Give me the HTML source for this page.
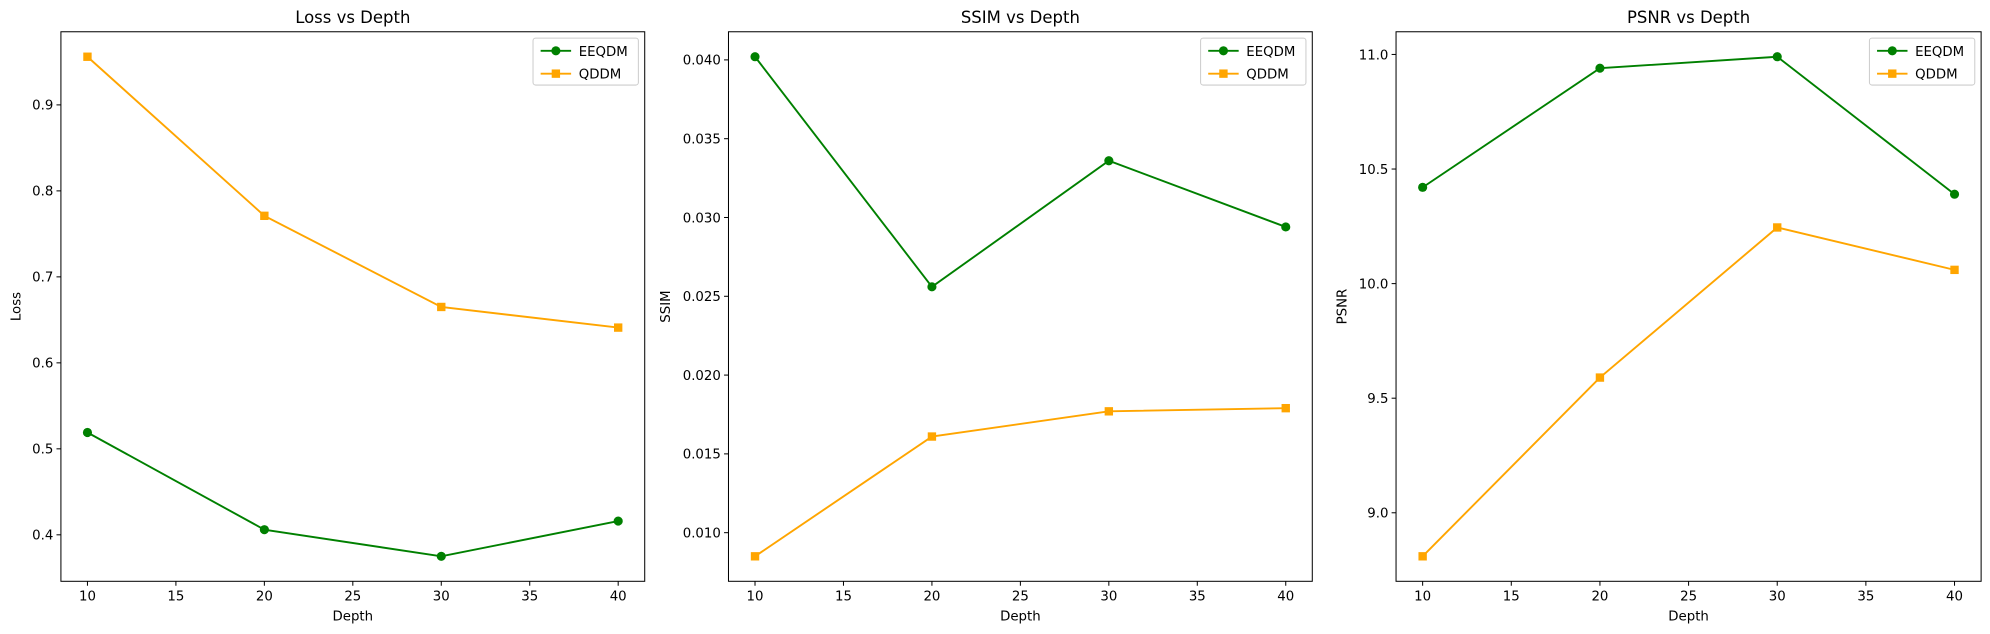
<!DOCTYPE html>
<html><head><meta charset="utf-8"><style>
html,body{margin:0;padding:0;background:#fff;}
svg{display:block;font-family:"DejaVu Sans","Liberation Sans",sans-serif;}
</style></head><body>
<svg id="fig" width="1990" height="634" viewBox="0 0 1568 499.5" xmlns="http://www.w3.org/2000/svg"></svg>
<script>
const depths = [10, 20, 30, 40];
const xTicks = [10, 15, 20, 25, 30, 35, 40];
const lossEEQDM = [0.519, 0.406, 0.375, 0.416];
const lossQDDM = [0.956, 0.771, 0.665, 0.641];
const lossTicks = [0.4, 0.5, 0.6, 0.7, 0.8, 0.9];
const ssimEEQDM = [0.0402, 0.0256, 0.0336, 0.0294];
const ssimQDDM = [0.0085, 0.0161, 0.0177, 0.0179];
const ssimTicks = [0.010, 0.015, 0.020, 0.025, 0.030, 0.035, 0.040];
const psnrEEQDM = [10.42, 10.94, 10.99, 10.39];
const psnrQDDM = [8.81, 9.59, 10.245, 10.06];
const psnrTicks = [9.0, 9.5, 10.0, 10.5, 11.0];

const NS = "http://www.w3.org/2000/svg";
const svg = document.getElementById('fig');
function mk(tag, attrs, parent){
  const e = document.createElementNS(NS, tag);
  for (const k in attrs) e.setAttribute(k, attrs[k]);
  (parent||svg).appendChild(e);
  return e;
}
function panel(id, left, right, title, ylabel, eq, qd, ticks, dec, ylOff){
  const top = 25, bottom = 458;
  const g = mk('g', {});
  
  
  const all = eq.concat(qd);
  const mn = Math.min(...all), mx = Math.max(...all), pad = (mx - mn) * 0.05;
  const y0 = mn - pad, y1 = mx + pad;
  const xs = v => left + (v - 8.5) / 33 * (right - left);
  const ys = v => bottom - (v - y0) / (y1 - y0) * (bottom - top);
  const t = mk('text', {x:(left+right)/2, y:18, 'text-anchor':'middle', 'font-size':13, fill:'#000'}, g);
  t.textContent = title;
  
  
  xTicks.forEach(v => {
    const x = xs(v);
    mk('line', {x1:x, x2:x, y1:bottom, y2:bottom+3.5, stroke:'#000', 'stroke-width':0.8}, g);
    const l = mk('text', {x:x, y:bottom+15, 'text-anchor':'middle', 'font-size':10.5}, g);
    l.textContent = v;
    
    
  });
  ticks.forEach(v => {
    const y = ys(v);
    mk('line', {x1:left-3.5, x2:left, y1:y, y2:y, stroke:'#000', 'stroke-width':0.8}, g);
    const l = mk('text', {x:left-6, y:y+3.8, 'text-anchor':'end', 'font-size':10.5}, g);
    l.textContent = v.toFixed(dec);
    
    
  });
  const xl = mk('text', {x:(left+right)/2, y:489, 'text-anchor':'middle', 'font-size':10.5}, g);
  xl.textContent = 'Depth';
  
  
  const lx = left - ylOff;
  const yl = mk('text', {x:lx, y:(top+bottom)/2, 'text-anchor':'middle', 'font-size':10.5, transform:`rotate(-90 ${lx} ${(top+bottom)/2})`}, g);
  yl.textContent = ylabel;
  
  
  function series(vals, color, marker, name){
    const pts = vals.map((v,i) => xs(depths[i]) + ',' + ys(v)).join(' ');
    const pl = mk('polyline', {points:pts, fill:'none', stroke:color, 'stroke-width':1.5}, g);
    
    
    vals.forEach((v,i) => {
      const x = xs(depths[i]), y = ys(v);
      let m;
      if (marker === 'o') m = mk('circle', {cx:x, cy:y, r:3.6, fill:color}, g);
      else m = mk('rect', {x:x-3.3, y:y-3.3, width:6.6, height:6.6, fill:color}, g);
      
      
    });
  }
  series(eq, 'green', 'o', 'eeqdm');
  series(qd, 'orange', 's', 'qddm');
  const fr = mk('rect', {x:left, y:top, width:right-left, height:bottom-top, fill:'none', stroke:'#000', 'stroke-width':0.8}, g);
  
  
  const lg = mk('g', {}, g);
  
  
  mk('rect', {x:right-88, y:30, width:83, height:37, rx:2, fill:'#fff', 'fill-opacity':0.8, stroke:'#ccc', 'stroke-width':0.8}, lg);
  [['EEQDM','green','o',40],['QDDM','orange','s',58]].forEach(([n,c,mkr,y]) => {
    const lx0 = right - 82;
    mk('line', {x1:lx0, x2:lx0+24, y1:y, y2:y, stroke:c, 'stroke-width':1.5}, lg);
    if (mkr === 'o') mk('circle', {cx:lx0+12, cy:y, r:3.6, fill:c}, lg);
    else mk('rect', {x:lx0+8.7, y:y-3.3, width:6.6, height:6.6, fill:c}, lg);
    const tt = mk('text', {x:lx0+30, y:y+4, 'font-size':10.5}, lg);
    tt.textContent = n;
    
    
  });
}
panel('loss', 48, 508, 'Loss vs Depth', 'Loss', lossEEQDM, lossQDDM, lossTicks, 1, 32);
panel('ssim', 574, 1034, 'SSIM vs Depth', 'SSIM', ssimEEQDM, ssimQDDM, ssimTicks, 3, 46);
panel('psnr', 1100, 1561, 'PSNR vs Depth', 'PSNR', psnrEEQDM, psnrQDDM, psnrTicks, 1, 39);
</script>
</body></html>
